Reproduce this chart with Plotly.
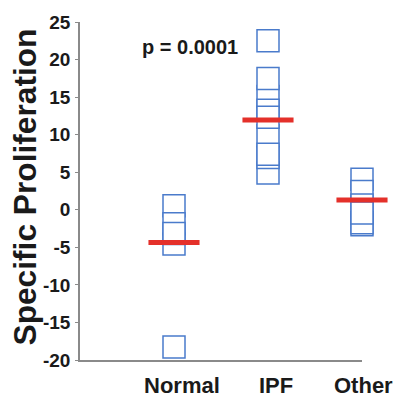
import plotly.graph_objects as go

# Group labels and individual subject values (specific proliferation)
categories = ["Normal", "IPF", "Other"]
normal_values = [0.52, -1.87, -4.57, -3.17, -18.26]
ipf_values = [15.09, 9.87, 22.52, 17.47, 13.26, 12.31, 4.91, 6.96, 7.39]
other_values = [4.07, 2.44, 0.65, -2.0, -1.74, -0.43]
group_means = [-4.35, 11.96, 1.3]
y_ticks = [-20, -15, -10, -5, 0, 5, 10, 15, 20, 25]
y_tick_labels = ["-20", "-15", "-10", "-5", "0", "5", "10", "15", "20", "25"]
p_label = "p = 0.0001"

BLUE = "#4a7bcb"
RED = "#e4302a"
AXIS = "#8a8a8a"
INK = "#1a1a1a"
FONT = "Liberation Sans"

fig = go.Figure()

# Open squares with white fill, so later squares mask edges of earlier ones
groups = [normal_values, ipf_values, other_values]
for pos, vals in enumerate(groups, start=1):
    fig.add_trace(go.Scatter(
        x=[pos] * len(vals), y=vals, mode="markers",
        marker=dict(symbol="square", size=22, color="white",
                    line=dict(color=BLUE, width=1.5)),
        cliponaxis=False, showlegend=False, hoverinfo="skip",
    ))

# Group mean bars
fig.add_trace(go.Scatter(
    x=list(range(1, len(categories) + 1)), y=group_means, mode="markers",
    marker=dict(symbol="line-ew", size=36.5, color=RED,
                line=dict(color=RED, width=5)),
    cliponaxis=False, showlegend=False, hoverinfo="skip",
))

annotations = []
# Category labels under the axis
label_shift = [8, 8, 1]
for pos, (cat, dx) in enumerate(zip(categories, label_shift), start=1):
    annotations.append(dict(
        text=cat, x=pos, xref="x", y=0, yref="paper",
        xanchor="center", yanchor="top", xshift=dx, yshift=-11,
        showarrow=False,
        font=dict(family=FONT, size=22, color=INK, weight="bold"),
    ))

# Y axis title
annotations.append(dict(
    text="Specific Proliferation", textangle=-90,
    x=0, xref="paper", y=0.5, yref="paper",
    xanchor="center", yanchor="middle", xshift=-55.5, yshift=4,
    showarrow=False,
    font=dict(family=FONT, size=31.7, color=INK, weight="bold"),
))

# Significance label
annotations.append(dict(
    text=p_label, x=0.39, xref="paper", y=0.926, yref="paper",
    xanchor="center", yanchor="middle", showarrow=False,
    font=dict(family=FONT, size=20, color=INK, weight="bold"),
))

fig.update_layout(
    width=396, height=398,
    margin=dict(l=80, r=34, t=15, b=38),
    paper_bgcolor="white", plot_bgcolor="white",
    annotations=annotations,
    xaxis=dict(range=[0, 3], showline=True, linecolor=AXIS, linewidth=1.5,
               showticklabels=False, ticks="", showgrid=False, zeroline=False,
               fixedrange=True),
    yaxis=dict(range=[-20, 25], tickvals=y_ticks, ticktext=y_tick_labels,
               ticks="outside", ticklen=3,
               tickcolor=AXIS, tickwidth=1, showline=True, linecolor=AXIS,
               linewidth=1.5, showgrid=False, zeroline=False,
               tickfont=dict(family=FONT, size=19, color=INK, weight="bold"),
               ticklabelstandoff=1, fixedrange=True),
)

fig.write_html("out.html")
